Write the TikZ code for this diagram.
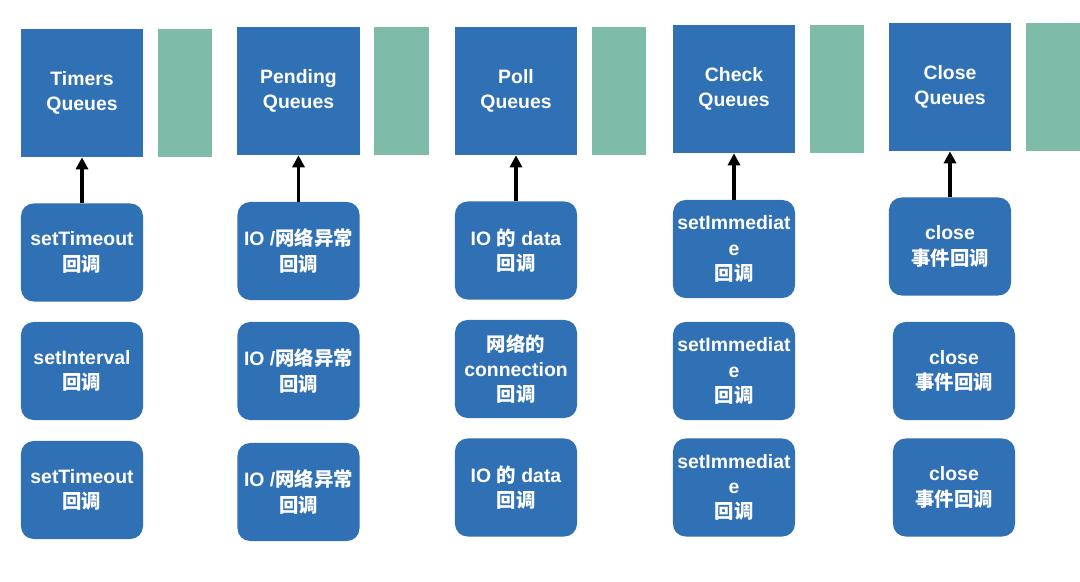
\documentclass[tikz,border=0pt]{standalone}
\usepackage{fontspec}
\setmainfont{Liberation Sans}
\newfontfamily\cjkfont{Noto Sans CJK SC}
\usepackage{tikz}
\usetikzlibrary{arrows.meta, positioning}
\definecolor{qblue}{HTML}{3070B4}
\definecolor{qgreen}{HTML}{7EBBA9}
\newcommand{\boxfont}{\fontsize{13.8}{18}\selectfont\bfseries}
\newcommand{\huidiao}{{\cjkfont 回调}}

\tikzset{
  queuebox/.style={fill=qblue, minimum width=3.05cm, minimum height=3.2cm,
    inner sep=0pt, text=white, font=\boxfont, align=center},
  sidebar/.style={fill=qgreen, minimum width=1.35cm, minimum height=3.2cm, inner sep=0pt},
  cbbox/.style={fill=qblue, rounded corners=9pt, minimum width=3.05cm, minimum height=2.45cm,
    inner sep=0pt, text=white, font=\boxfont, align=center},
  feed/.style={-{Triangle[length=8.5pt, width=8.5pt]}, line width=2.3pt, black}
}

\begin{document}
\begin{tikzpicture}[x=0.025cm, y=-0.025cm]

  \fill[white] (0,0) rectangle (1080,581);
  \useasboundingbox (0,0) rectangle (1080,581);

  %% Queue phases with their side bars
  \foreach \col/\qx/\qy/\gx/\lbl in {
    1/82/93/185/Timers,
    2/298.5/91/401.5/Pending,
    3/516/91/619/Poll,
    4/734/89/836.5/Check,
    5/950/87/1053/Close
  }{
    \node[queuebox] (q\col) at (\qx,\qy) {\lbl\\Queues};
    \node[sidebar] (g\col) at (\gx,\qy) {};
  }

  %% Timers callbacks
  \node[cbbox] (cb1-1) at (82,252.5) {setTimeout\\\huidiao};
  \node[cbbox] (cb1-2) at (82,371) {setInterval\\\huidiao};
  \node[cbbox] (cb1-3) at (82,490) {setTimeout\\\huidiao};

  %% Pending callbacks
  \node[cbbox] (cb2-1) at (298.5,251) {IO /{\cjkfont 网络异常}\\\huidiao};
  \node[cbbox] (cb2-2) at (298.5,371) {IO /{\cjkfont 网络异常}\\\huidiao};
  \node[cbbox] (cb2-3) at (298.5,492) {IO /{\cjkfont 网络异常}\\\huidiao};

  %% Poll callbacks
  \node[cbbox] (cb3-1) at (516,250.5) {IO {\cjkfont 的} data\\\huidiao};
  \node[cbbox] (cb3-2) at (516,369) {{\cjkfont 网络的}\\connection\\\huidiao};
  \node[cbbox] (cb3-3) at (516,487.5) {IO {\cjkfont 的} data\\\huidiao};

  %% Check callbacks
  \node[cbbox] (cb4-1) at (734,249) {setImmediat\\e\\\huidiao};
  \node[cbbox] (cb4-2) at (734,371) {setImmediat\\e\\\huidiao};
  \node[cbbox] (cb4-3) at (734,487.5) {setImmediat\\e\\\huidiao};

  %% Close callbacks
  \node[cbbox] (cb5-1) at (950,246.5) {close\\{\cjkfont 事件回调}};
  \node[cbbox] (cb5-2) at (954,371) {close\\{\cjkfont 事件回调}};
  \node[cbbox] (cb5-3) at (954,487.5) {close\\{\cjkfont 事件回调}};

  %% First callback feeds its queue
  \foreach \col in {1,...,5}{
    \draw[feed] (cb\col-1) -- (q\col);
  }

\end{tikzpicture}
\end{document}
